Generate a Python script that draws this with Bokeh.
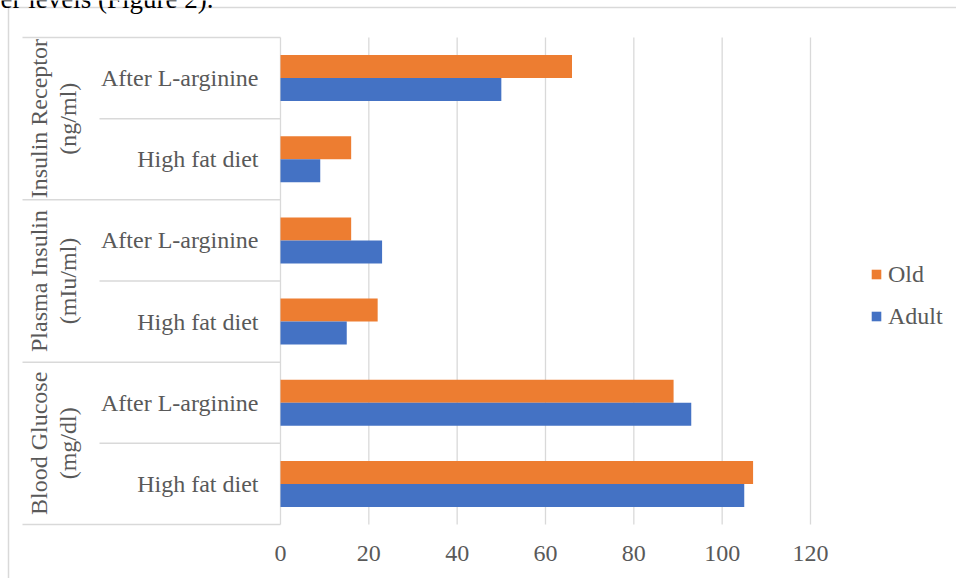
from bokeh.plotting import figure
from bokeh.models import Range1d, ColumnDataSource, Legend, LegendItem
from bokeh.core.properties import value
from bokeh.embed import file_html
from bokeh.resources import INLINE
import math

# ---------------- data ----------------
groups = ["Blood Glucose\n(mg/dl)", "Plasma Insulin\n(mIu/ml)", "Insulin Receptor\n(ng/ml)"]
subgroups = ["High fat diet", "After L-arginine"]
adult = [105, 93, 15, 23, 9, 50]
old = [107, 89, 22, 16, 16, 66]
x_ticks = [0, 20, 40, 60, 80, 100, 120]
series_names = ["Old", "Adult"]
colors = {"Old": "#ED7D31", "Adult": "#4472C4"}

# ---------------- layout constants (pixels) ----------------
W, H = 956, 578
PX0, PX120 = 280, 810          # pixel x of value 0 and 120
PY_TOP, PY_BOT = 37, 524        # plot area top/bottom
n_bands = len(groups) * len(subgroups)
ppu = (PX120 - PX0) / 120.0
ppy = (PY_BOT - PY_TOP) / n_bands

def xd(px):
    return (px - PX0) / ppu

def yd(py):
    return (PY_BOT - py) / ppy

FONT = "Liberation Serif"
FS = "24px"
TXT = "#595959"
GRID = "#d9d9d9"

p = figure(width=W, height=H, output_backend="svg", toolbar_location=None,
           x_range=Range1d(xd(0), xd(W)), y_range=Range1d(yd(H), yd(0)),
           min_border=0, x_axis_type=None, y_axis_type=None)
p.outline_line_color = None
p.grid.visible = False
p.background_fill_color = "white"
p.border_fill_color = "white"

# outer chart border
p.segment(x0=[xd(8), xd(8)], y0=[yd(7), yd(7)], x1=[xd(W + 5), xd(8)], y1=[yd(7), yd(H + 5)],
          line_color=GRID, line_width=1.5)

# vertical gridlines
p.segment(x0=x_ticks, x1=x_ticks, y0=[0] * len(x_ticks), y1=[n_bands] * len(x_ticks),
          line_color=GRID, line_width=1.3)

# category box lines
grp_lines = [i * len(subgroups) for i in range(len(groups) + 1)]
p.segment(x0=[xd(22)] * len(grp_lines), x1=[0] * len(grp_lines), y0=grp_lines, y1=grp_lines,
          line_color=GRID, line_width=1.5)
sub_lines = [i * len(subgroups) + 1 for i in range(len(groups))]
p.segment(x0=[xd(99)] * len(sub_lines), x1=[0] * len(sub_lines), y0=sub_lines, y1=sub_lines,
          line_color=GRID, line_width=1.5)

# bars
centers = [i + 0.5 for i in range(n_bands)]
bar_h = 23 / ppy
off = bar_h / 2
src_old = ColumnDataSource(dict(y=[c + off for c in centers], v=old))
src_adult = ColumnDataSource(dict(y=[c - off for c in centers], v=adult))
r_old = p.hbar(y="y", right="v", left=0, height=bar_h, source=src_old,
               fill_color=colors["Old"], line_color=None)
r_adult = p.hbar(y="y", right="v", left=0, height=bar_h, source=src_adult,
                 fill_color=colors["Adult"], line_color=None)

# sub-category labels
sub_labels = [subgroups[i % len(subgroups)] for i in range(n_bands)]
p.text(x=[0] * n_bands, y=centers, text=sub_labels, x_offset=-22,
       text_align="right", text_baseline="middle",
       text_font=value(FONT), text_font_size=FS, text_color=TXT)

# group labels (rotated)
grp_centers = [i * len(subgroups) + len(subgroups) / 2 for i in range(len(groups))]
p.text(x=[xd(53)] * len(groups), y=grp_centers, text=groups, angle=math.pi / 2,
       text_align="center", text_baseline="middle", text_line_height=1.1,
       text_font=value(FONT), text_font_size=FS, text_color=TXT)

# x tick labels
p.text(x=x_ticks, y=[yd(553)] * len(x_ticks), text=[str(t) for t in x_ticks],
       text_align="center", text_baseline="middle",
       text_font=value(FONT), text_font_size=FS, text_color=TXT)

# legend
legend = Legend(items=[LegendItem(label="Old", renderers=[r_old]),
                       LegendItem(label="Adult", renderers=[r_adult])],
                location=(870, 248), orientation="vertical",
                glyph_width=12, glyph_height=12, label_standoff=6, spacing=14,
                padding=0, margin=0, border_line_color=None, background_fill_alpha=0,
                label_text_font=FONT, label_text_font_size=FS, label_text_color=TXT,
                label_height=28)
p.add_layout(legend, "center")

# cut-off text at the top of the page
p.text(x=[xd(0)], y=[yd(-2)], text=["er levels (Figure 2)."],
       text_align="left", text_baseline="alphabetic",
       text_font=value(FONT), text_font_size="27px", text_color="#000000")

open("out.html", "w").write(file_html(p, INLINE))
